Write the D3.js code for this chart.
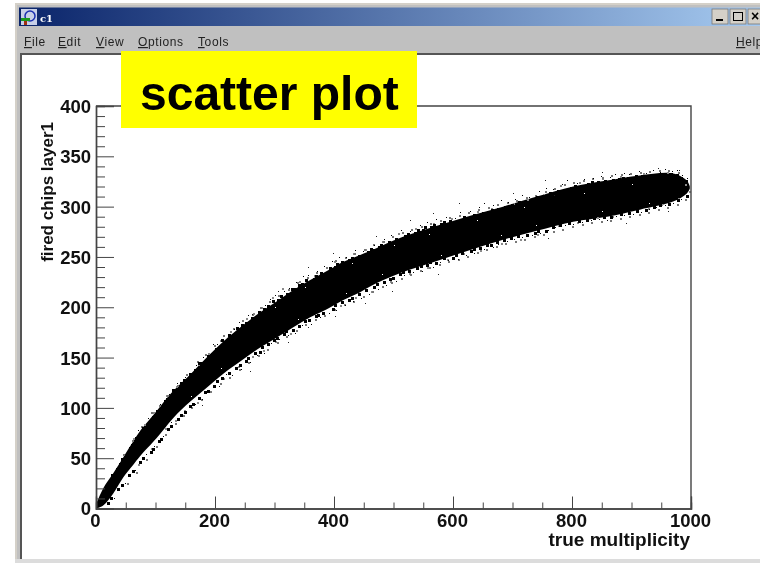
<!DOCTYPE html>
<html><head><meta charset="utf-8">
<script src="https://cdn.jsdelivr.net/npm/d3@7"></script>
<style>html,body{margin:0;padding:0;background:#fff;overflow:hidden}svg{display:block}
text{font-family:"Liberation Sans",Arial,sans-serif;filter:blur(.3px)}</style></head>
<body><svg id="c" width="760" height="563"></svg>
<script>
const xTicks=[0,200,400,600,800,1000];
const yTicks=[0,50,100,150,200,250,300,350,400];
const xMinor=[50,100,150,250,300,350,450,500,550,650,700,750,850,900,950];
const yMinor=[10,20,30,40,60,70,80,90,110,120,130,140,160,170,180,190,210,220,230,240,260,270,280,290,310,320,330,340,360,370,380,390];
const menuItems=["File","Edit","View","Options","Tools"];
// solid part of the cloud
const bandX=[0,12,29,46,62,74,102,130,158,186,214,247,276,304,331,360,388,415,444,472,516,573,629,684,741,802,859,914,970,993,998];
const bandHi=[4,20,35,51,66,77,97,117,133,150,166,182,195,206,217,227,236,245,252,259,270,281,291,300,310,320,326,331,333,326,320];
const bandLo=[0,3,15,31,43,52,70,90,106,120,134,148,160,170,180,190,198,207,215,224,235,246,257,267,276,285,290,297,305,313,318];
// loose points on the rim of the cloud
const rimBlack=[[22,27],[38,45],[55,61],[70,78],[88,90],[108,104],[122,114],[136,125],[150,131],[168,143],[180,151],[196,163],[204,163],[232,178],[240,185],[256,192],[268,191],[284,202],[292,208],[300,212],[316,216],[324,219],[336,225],[348,231],[356,232],[372,236],[384,241],[396,246],[408,250],[420,250],[436,257],[448,256],[468,262],[484,268],[496,272],[512,277],[528,276],[544,282],[556,285],[572,288],[588,290],[604,289],[612,295],[628,296],[644,300],[652,304],[668,302],[680,307],[692,305],[704,308],[716,312],[728,310],[744,316],[756,319],[768,318],[784,322],[792,326],[808,323],[820,327],[836,328],[848,330],[864,329],[872,332],[888,333],[896,332],[912,335],[924,333],[936,336],[948,334],[956,337],[968,335],[976,336],[985,331],[994,328],
[30,10],[48,25],[66,38],[84,54],[98,62],[112,72],[126,86],[138,88],[152,96],[166,104],[178,109],[190,118],[206,122],[218,134],[228,133],[244,139],[258,146],[270,153],[282,155],[294,164],[308,168],[322,172],[334,174],[346,182],[362,183],[376,190],[392,194],[404,197],[418,202],[432,206],[446,209],[458,213],[474,218],[488,222],[504,226],[518,232],[532,235],[548,236],[566,240],[578,245],[592,247],[608,248],[622,252],[636,254],[652,258],[668,260],[676,263],[690,266],[702,268],[716,270],[732,272],[746,274],[760,277],[772,280],[788,282],[802,283],[816,285],[832,287],[846,288],[858,287],[874,291],[888,292],[902,293],[916,295],[930,298],[942,300],[956,302],[970,304],[984,308]];
const rimDense=[[15,22],[26,34],[34,40],[42,50],[50,55],[58,64],[66,71],[78,81],[84,84],[94,92],[100,98],[104,98],[114,108],[118,110],[128,119],[132,119],[142,126],[146,129],[156,135],[160,134],[164,139],[172,146],[176,146],[186,153],[192,154],[200,160],[210,168],[216,167],[222,173],[228,172],[236,180],[244,183],[250,185],[260,190],[272,196],[280,199],[288,202],[296,207],[304,208],[310,212],[320,214],[328,219],[332,219],[340,223],[344,224],[352,228],[364,229],[368,232],[376,235],[380,234],[392,240],[400,241],[404,244],[412,246],[424,248],[428,250],[432,248],[440,252],[456,256],[460,259],[464,258],[474,261],[478,263],[490,266],[502,269],[506,268],[518,272],[522,274],[534,275],[540,278],[548,278],[552,281],[562,281],[566,283],[578,284],[584,286],[594,287],[600,285],[616,291],[622,289],[634,293],[640,292],[648,295],[660,296],[664,298],[674,299],[686,301],[698,303],[710,306],[722,306],[734,309],[740,311],[750,312],[762,315],[774,317],[780,317],[796,320],[804,321],[814,321],[826,323],[832,325],[842,325],[854,326],[868,327],[878,328],[884,329],[892,329],[906,331],[916,331],[930,331],[942,332],[952,333],[964,333],[974,332],[982,329],[990,326],
[18,6],[24,11],[36,20],[42,24],[54,34],[60,38],[72,47],[78,51],[90,57],[94,60],[104,68],[108,70],[120,80],[124,83],[136,90],[142,94],[148,97],[156,103],[162,105],[172,111],[182,117],[186,118],[196,123],[202,128],[210,131],[222,136],[234,141],[240,144],[250,148],[254,151],[266,156],[274,157],[278,161],[288,164],[298,168],[302,170],[314,174],[318,177],[330,178],[340,182],[350,187],[356,188],[368,192],[372,193],[380,195],[396,199],[400,203],[412,206],[424,208],[428,210],[440,214],[452,218],[466,221],[470,224],[482,226],[492,229],[498,230],[510,234],[514,236],[524,237],[538,240],[544,242],[554,243],[560,246],[570,245],[584,250],[598,250],[604,253],[614,255],[628,257],[634,259],[644,260],[656,263],[662,263],[672,266],[684,268],[696,270],[708,272],[722,273],[736,275],[742,277],[754,277],[766,281],[778,283],[794,285],[810,287],[824,288],[836,290],[852,291],[864,291],[880,294],[894,295],[908,297],[922,298],[936,301],[946,303],[962,304],[976,308],[992,312]];
const rimOuter=[[45,54],[60,68],[76,82],[92,96],[106,103],[120,113],[136,123],[152,134],[170,147],[184,154],[198,162],[214,172],[230,179],[246,187],[262,193],[276,200],[290,206],[306,212],[322,218],[338,225],[354,230],[370,235],[386,240],[402,247],[418,250],[434,254],[450,258],[466,263],[482,266],[498,271],[514,275],[530,278],[546,281],[562,284],[578,287],[594,290],[610,292],[626,295],[642,298],[658,300],[674,303],[690,305],[706,307],[722,310],[738,312],[754,316],[770,319],[786,322],[802,324],[818,326],[834,328],[850,329],[866,331],[882,332],[898,333],[914,334],[930,335],[946,336],[962,336],[978,334],
[52,25],[68,36],[84,49],[100,62],[116,74],[132,85],[146,93],[160,101],[176,109],[192,117],[208,125],[224,131],[240,139],[256,146],[272,153],[288,159],[304,165],[320,171],[336,177],[352,183],[368,188],[384,192],[400,198],[416,203],[432,206],[448,211],[464,216],[480,221],[496,225],[512,229],[528,233],[544,237],[560,240],[576,243],[592,246],[608,248],[624,251],[640,255],[656,258],[672,261],[688,264],[704,266],[720,268],[736,271],[752,273],[768,276],[784,278],[800,281],[816,283],[832,285],[848,286],[864,287],[880,289],[896,291],[912,293],[928,295],[944,298],[960,300],[976,303],[990,308]];
const rimGray=[[62,70],[80,84],[96,96],[118,113],[134,122],[146,128],[172,144],[188,155],[208,167],[226,176],[252,189],[264,194],[278,200],[296,210],[312,219],[342,226],[366,232],[400,246],[432,254],[452,258],[480,266],[508,274],[536,279],[566,284],[596,289],[640,296],[664,299],[700,304],[724,308],[752,313],[780,321],[812,324],[850,328],[880,330],[920,333],[960,334],[990,322],
[70,44],[92,60],[116,80],[132,88],[148,98],[170,106],[196,122],[214,130],[238,142],[262,152],[280,158],[300,166],[326,174],[352,186],[384,192],[410,202],[436,210],[462,216],[494,226],[526,234],[556,240],[590,248],[616,254],[646,257],[680,264],[712,268],[742,273],[776,282],[808,285],[842,290],[868,291],[896,295],[928,299],[950,303],[978,309],[996,316]];
// far outliers
const outliers=[[178,103],[258,137],[322,165],[356,180],[402,191],[452,204],[498,216],[262,193],[306,216],[356,240],[398,254],[470,271],[528,287],[566,294],[610,304],[700,314],[754,326],[770,312],[850,334],[945,338],[980,336],[890,284],[962,296],[574,233],[760,269]];
// pale specks just inside the rim
const specks=[[300,200],[352,220],[430,244],[500,262],[560,273],[640,287],[720,300],[820,314],[900,322],[340,188],[420,214],[480,233],[580,252],[680,272],[740,282],[850,296],[930,304],[160,112],[210,140]];

const svg=d3.select("#c");
// window frame
const defs=svg.append("defs");
const g=defs.append("linearGradient").attr("id","tb");
g.append("stop").attr("offset",0).attr("stop-color","#0a246a");
g.append("stop").attr("offset",1).attr("stop-color","#a6caf0");
svg.append("rect").attr("x",15).attr("y",3).attr("width",745).attr("height",560).attr("fill","#d4d0c8");
svg.append("rect").attr("x",17).attr("y",5).attr("width",743).attr("height",554).attr("fill","#c0c0c0");
svg.append("rect").attr("x",19).attr("y",7.5).attr("width",741).attr("height",18.5).attr("fill","url(#tb)");
svg.append("rect").attr("x",20).attr("y",53).attr("width",740).attr("height",506).attr("fill","#555");
svg.append("rect").attr("x",22).attr("y",55).attr("width",738).attr("height",504).attr("fill","#fff");
svg.append("rect").attr("x",15).attr("y",559).attr("width",745).attr("height",4).attr("fill","#dcdcdc");
// title bar
svg.append("rect").attr("x",21).attr("y",9).attr("width",16).attr("height",16).attr("fill","#c8d0e8");
svg.append("circle").attr("cx",30).attr("cy",16).attr("r",5).attr("fill","none").attr("stroke","#1a2fb0").attr("stroke-width",1.5);
svg.append("rect").attr("x",21).attr("y",18).attr("width",9).attr("height",3).attr("fill","#1a9a20");
svg.append("rect").attr("x",24).attr("y",21).attr("width",3).attr("height",4).attr("fill","#a03010");
svg.append("text").attr("x",40).attr("y",22).attr("fill","#fff").attr("font-weight","bold")
  .style("font-family","'DejaVu Serif',serif").attr("font-size",10).text("c1");
[712,730,748].forEach((bx,i)=>{
  svg.append("rect").attr("x",bx).attr("y",9).attr("width",16).attr("height",15).attr("fill","#d4d0c8").attr("stroke","#777").attr("stroke-width",.8);
  if(i==0)svg.append("rect").attr("x",bx+4).attr("y",19).attr("width",7).attr("height",2).attr("fill","#000");
  if(i==1)svg.append("rect").attr("x",bx+3.5).attr("y",12.5).attr("width",9).attr("height",8).attr("fill","none").attr("stroke","#000");
  if(i==2)svg.append("text").attr("x",bx+3).attr("y",21).attr("font-size",14).attr("font-weight","bold").text("\u00d7");
});
// menu
const menuX=[24,58,96,138,198];
menuItems.forEach((m,i)=>{
  const t=svg.append("text").attr("x",menuX[i]).attr("y",46).attr("font-size",12).attr("fill","#222").attr("letter-spacing",.6);
  t.append("tspan").style("text-decoration","underline").text(m[0]);
  t.append("tspan").text(m.slice(1));
});
{const t=svg.append("text").attr("x",736).attr("y",46).attr("font-size",12).attr("fill","#222").attr("letter-spacing",.6);
 t.append("tspan").style("text-decoration","underline").text("H");t.append("tspan").text("elp");}

// plot
const x=d3.scaleLinear().domain([0,1000]).range([96,691]);
const y=d3.scaleLinear().domain([0,400]).range([508.5,106]);
const band=d3.area().x((d,i)=>x(bandX[i])).y0((d,i)=>y(bandLo[i])).y1((d,i)=>y(bandHi[i])).curve(d3.curveCatmullRom);
svg.append("path").datum(bandX).attr("d",band).attr("fill","#000");
const pts=(arr,col,s)=>svg.append("g").selectAll("rect").data(arr).join("rect")
  .attr("x",d=>Math.round(x(d[0]))).attr("y",d=>Math.round(y(d[1]))).attr("width",s).attr("height",s).attr("fill",col);
pts(rimGray,"#8a8a8a",2);
pts(rimOuter,"#777",2);
pts(rimBlack,"#000",1);
pts(rimDense,"#000",3);
pts(outliers,"#222",1);
pts(specks,"#fff",1);

const axisCol="#444";
const ax=svg.append("g").attr("transform","translate(0,508.5)").call(d3.axisBottom(x).tickValues(xTicks).tickSize(-12).tickFormat(d3.format("d")));
const axm=svg.append("g").attr("transform","translate(0,508.5)").call(d3.axisBottom(x).tickValues(xMinor).tickSize(-6).tickFormat(""));
const ay=svg.append("g").attr("transform","translate(96,0)").call(d3.axisLeft(y).tickValues(yTicks).tickSize(-18).tickFormat(d3.format("d")));
const aym=svg.append("g").attr("transform","translate(96,0)").call(d3.axisLeft(y).tickValues(yMinor).tickSize(-9).tickFormat(""));
[ax,axm,ay,aym].forEach(a=>{a.selectAll("path.domain").attr("stroke",axisCol).attr("stroke-width",1.4);a.selectAll("line").attr("stroke",axisCol).attr("stroke-width",1);});
ax.selectAll("text").attr("y",0).attr("dy",0).attr("transform","translate(-1,18.5)").attr("font-size",18.5).attr("font-weight","bold").attr("fill","#111").style("font-family","'Liberation Sans'");
ay.selectAll("text").attr("x",-5).attr("dy","0.35em").attr("font-size",18.5).attr("font-weight","bold").attr("fill","#111").style("font-family","'Liberation Sans'");
svg.append("path").attr("d",`M${x(0)},${y(400)}H${x(1000)}V${y(0)}`).attr("fill","none").attr("stroke",axisCol).attr("stroke-width",1.4);
svg.append("text").attr("x",690).attr("y",546).attr("text-anchor","end").attr("font-size",19).attr("font-weight","bold").attr("fill","#111").text("true multiplicity");
svg.append("text").attr("transform","translate(53,122) rotate(-90)").attr("text-anchor","end").attr("font-size",17).attr("font-weight","bold").attr("fill","#111").text("fired chips layer1");
// banner
svg.append("rect").attr("x",121).attr("y",51).attr("width",296).attr("height",77).attr("fill","#ffff00");
svg.append("text").attr("x",140).attr("y",110).attr("font-size",48).attr("font-weight","bold").attr("fill","#000").text("scatter plot");
</script></body></html>
